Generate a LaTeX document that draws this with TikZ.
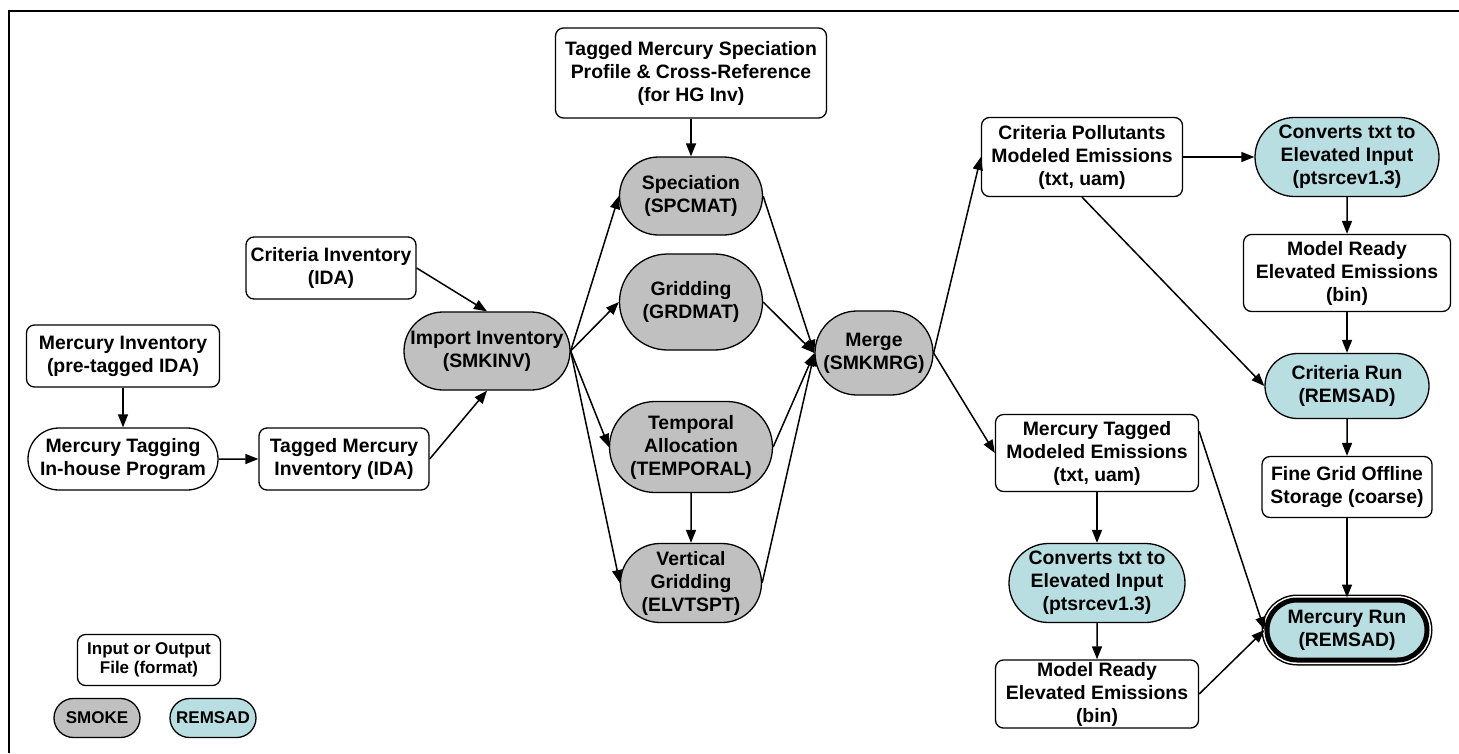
\documentclass[tikz,border=0pt]{standalone}
\usepackage{fontspec}
\setmainfont{Liberation Sans}
\usepackage{tikz}
\usetikzlibrary{positioning}
\usetikzlibrary{shapes.misc}
\usetikzlibrary{arrows.meta}

\definecolor{smokegray}{RGB}{192,192,192}
\definecolor{remsadblue}{RGB}{184,222,226}

\begin{document}
\begin{tikzpicture}[x=1pt, y=-1pt, on grid,
    iofile/.style={draw, line width=1.3pt, fill=white, rounded corners=8pt, align=center, inner sep=2pt,
        font=\bfseries\fontsize{19.4}{23}\selectfont},
    proc/.style={rounded rectangle, draw, line width=1.3pt, align=center, inner sep=2pt,
        font=\bfseries\fontsize{19.4}{23}\selectfont},
    smoke/.style={proc, fill=smokegray},
    remsad/.style={proc, fill=remsadblue},
    finalrun/.style={remsad, line width=5pt,
        preaction={draw=black, line width=11pt},
        preaction={draw=white, line width=8pt}},
    legendfont/.style={font=\bfseries\fontsize{17}{19.5}\selectfont},
    flow/.style={-{Triangle[length=13pt, width=10pt]}, line width=1.5pt}
]
    \useasboundingbox (0,0) rectangle (1459,753);

    % frame
    \draw[line width=2.5pt] (9,753) -- (9,11) -- (1459,11);

    % inventories
    \node[iofile, minimum width=193pt, minimum height=62pt] (mercinv) at (123,356) {Mercury Inventory\\(pre-tagged IDA)};
    \node[proc, fill=white, minimum width=194pt, minimum height=62pt, below=103pt of mercinv] (mertag) {Mercury Tagging\\In-house Program};
    \node[iofile, minimum width=170pt, minimum height=62pt, right=221pt of mertag] (tagmerc) {Tagged Mercury\\Inventory (IDA)};
    \node[iofile, minimum width=170pt, minimum height=62pt] (critinv) at (331,268) {Criteria Inventory\\(IDA)};

    % smoke steps
    \node[smoke, minimum width=170pt, minimum height=78pt] (import) at (487,351) {Import Inventory\\(SMKINV)};
    \node[iofile, minimum width=271pt, minimum height=90pt] (specprof) at (691,73) {Tagged Mercury Speciation\\Profile \& Cross-Reference\\(for HG Inv)};
    \node[smoke, minimum width=147pt, minimum height=78pt, below=123pt of specprof] (spec) {Speciation\\(SPCMAT)};
    \node[smoke, minimum width=147pt, minimum height=96pt, below=106pt of spec] (grid) {Gridding\\(GRDMAT)};
    \node[smoke, minimum width=167pt, minimum height=91pt, below=145pt of grid] (temp) {Temporal\\Allocation\\(TEMPORAL)};
    \node[smoke, minimum width=145pt, minimum height=79pt, below=136pt of temp] (vert) {Vertical\\Gridding\\(ELVTSPT)};
    \node[smoke, minimum width=122pt, minimum height=84pt] (merge) at (874,353) {Merge\\(SMKMRG)};

    % criteria branch
    \node[iofile, minimum width=201pt, minimum height=79pt] (critpol) at (1082,157) {Criteria Pollutants\\Modeled Emissions\\(txt, uam)};
    \node[remsad, minimum width=188pt, minimum height=79pt, right=265pt of critpol] (convA) {Converts txt to\\Elevated Input\\(ptsrcev1.3)};
    \node[iofile, minimum width=207pt, minimum height=77pt, below=116pt of convA] (readyA) {Model Ready\\Elevated Emissions\\(bin)};
    \node[remsad, minimum width=168pt, minimum height=65pt, below=113pt of readyA] (critrun) {Criteria Run\\(REMSAD)};
    \node[iofile, minimum width=170pt, minimum height=61pt, below=101pt of critrun] (fine) {Fine Grid Offline\\Storage (coarse)};
    \node[finalrun, minimum width=164pt, minimum height=60pt, below=143pt of fine] (hgrun) {Mercury Run\\(REMSAD)};

    % mercury branch
    \node[iofile, minimum width=203pt, minimum height=77pt] (hgtag) at (1097,453) {Mercury Tagged\\Modeled Emissions\\(txt, uam)};
    \node[remsad, minimum width=180pt, minimum height=79pt, below=130pt of hgtag] (convB) {Converts txt to\\Elevated Input\\(ptsrcev1.3)};
    \node[iofile, minimum width=203pt, minimum height=68pt, below=111pt of convB] (readyB) {Model Ready\\Elevated Emissions\\(bin)};

    % legend
    \node[iofile, legendfont, minimum width=143pt, minimum height=51pt] (legfile) at (149,660) {Input or Output\\File (format)};
    \node[smoke, legendfont, minimum width=90pt, minimum height=39pt] (legsmoke) at (97,718) {SMOKE};
    \node[remsad, legendfont, minimum width=90pt, minimum height=39pt, right=116pt of legsmoke] (legremsad) {REMSAD};

    % connectors
    \draw[flow] (mercinv) -- (mertag);
    \draw[flow] (mertag) -- (tagmerc);
    \draw[flow] (tagmerc.east) -- (import.south);
    \draw[flow] (critinv.east) -- (import.north);

    \draw[flow] (import.east) -- (spec.west);
    \draw[flow] (import.east) -- (grid.west);
    \draw[flow] (import.east) -- (temp.west);
    \draw[flow] (import.east) -- (vert.west);
    \draw[flow] (specprof) -- (spec);
    \draw[flow] (temp) -- (vert);

    \draw[flow] (spec.east) -- (merge.west);
    \draw[flow] (grid.east) -- (merge.west);
    \draw[flow] (temp.east) -- (merge.west);
    \draw[flow] (vert.east) -- (merge.west);

    \draw[flow] (merge.east) -- (critpol.west);
    \draw[flow] (merge.east) -- (hgtag.west);

    \draw[flow] (critpol) -- (convA);
    \draw[flow] (convA) -- (readyA);
    \draw[flow] (readyA) -- (critrun);
    \draw[flow] (critpol.south) -- (critrun.west);
    \draw[flow] (critrun) -- (fine);
    \draw[flow] (fine) -- (hgrun);

    \draw[flow] (hgtag) -- (convB);
    \draw[flow] (convB) -- (readyB);
    \draw[flow] (hgtag.12) -- (hgrun.west);
    \draw[flow] (readyB.east) -- (hgrun.west);
\end{tikzpicture}
\end{document}
